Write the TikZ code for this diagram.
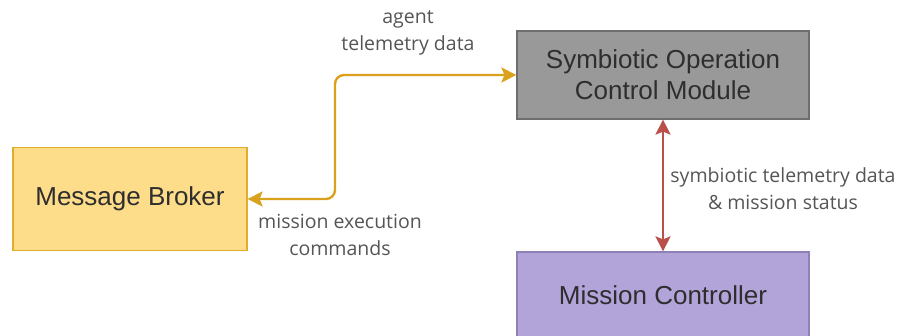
\documentclass[tikz,border=0pt]{standalone}
\usepackage{fontspec}
\setmainfont{Liberation Sans}
\newfontfamily\labelfont{Open Sans}
\usetikzlibrary{arrows.meta}
\definecolor{mbfill}{HTML}{FDDC8A}
\definecolor{mbdraw}{HTML}{E2AC2E}
\definecolor{gfill}{HTML}{999999}
\definecolor{gdraw}{HTML}{6E6E6E}
\definecolor{pfill}{HTML}{B2A3D8}
\definecolor{pdraw}{HTML}{8F80B8}
\definecolor{oline}{HTML}{DAA21C}
\definecolor{rline}{HTML}{B9504A}
\definecolor{lbl}{HTML}{555555}
\definecolor{btxt}{HTML}{2E2E2E}
\tikzset{
  box/.style={draw, line width=1.2pt, align=center, inner sep=0pt,
    font=\fontsize{26}{31}\selectfont, text=btxt},
  lab/.style={align=center, font=\labelfont\fontsize{19.5}{27}\selectfont, text=lbl},
  tipb/.style={{Stealth[length=15pt,width=15pt,inset=3pt]}-{Stealth[length=15pt,width=15pt,inset=3pt]}},
}
\begin{document}
\begin{tikzpicture}[x=1pt,y=-1pt]
\useasboundingbox (0,0) rectangle (897,336);
\node[box, fill=mbfill, draw=mbdraw, minimum width=234pt, minimum height=103pt] (mb) at (130,199) {Message Broker};
\node[box, fill=gfill, draw=gdraw, minimum width=292pt, minimum height=88pt] (socm) at (663,75) {Symbiotic Operation\\Control Module};
\node[box, fill=pfill, draw=pdraw, minimum width=292pt, minimum height=86pt] (mc) at (663,295) {Mission Controller};
\coordinate (bend) at (335,199);
\draw[oline, line width=2.4pt, rounded corners=9pt, tipb]
  (mb.east) -- (bend) |- (socm.west);
\draw[rline, line width=2.4pt, tipb]
  (socm.south) -- (mc.north);
\node[lab] (l1) at (408,33) {agent\\telemetry data};
\node[lab] (l2) at (340,235) {mission execution\\commands};
\node[lab] (l3) at (783,189) {symbiotic telemetry data\\\& mission status};
\end{tikzpicture}
\end{document}
